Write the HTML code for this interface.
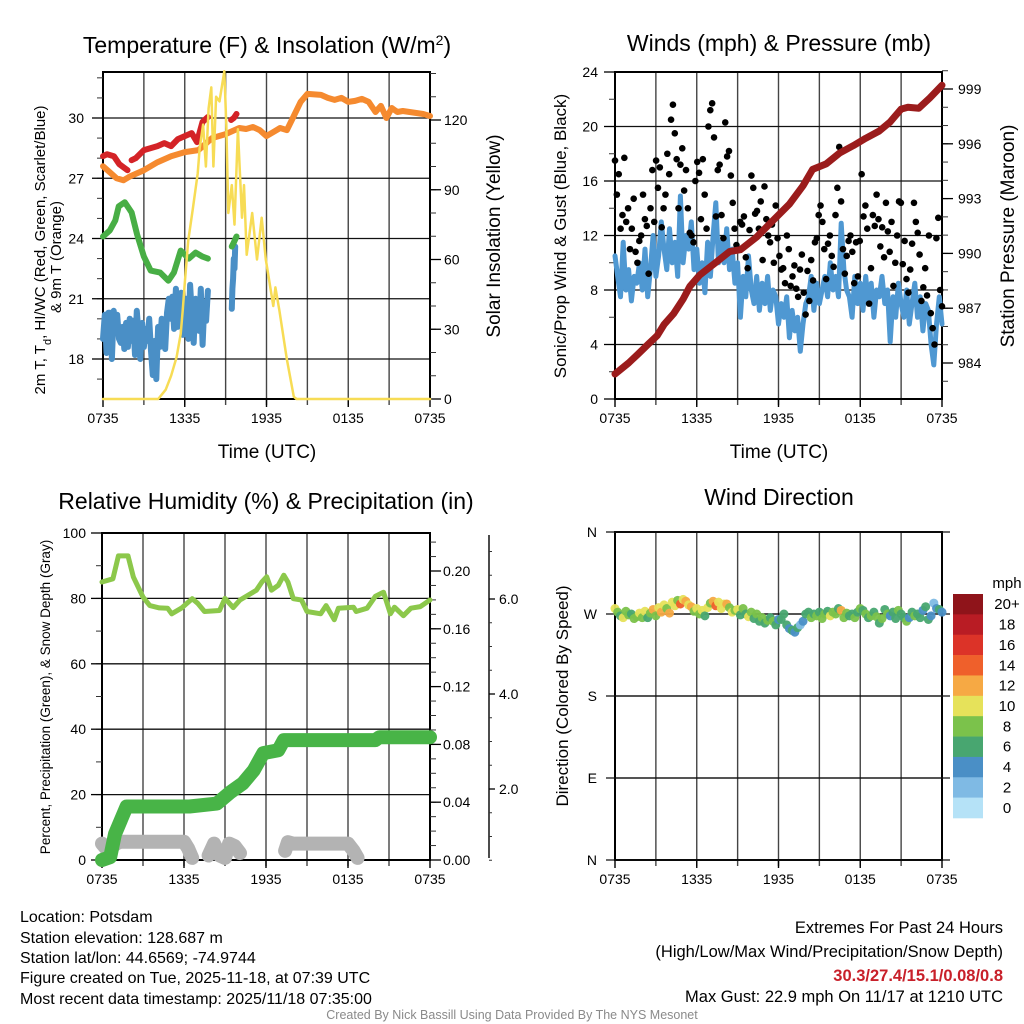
<!DOCTYPE html>
<html><head><meta charset="utf-8"><style>
html,body{margin:0;padding:0;background:#fff;}
svg{display:block;font-family:"Liberation Sans",Arial,sans-serif;}
</style></head><body>
<svg id="fig" width="1024" height="1024" viewBox="0 0 1024 1024" xmlns="http://www.w3.org/2000/svg">
<rect x="0" y="0" width="1024" height="1024" fill="#fff"/>
<g id="p1"></g>
<g id="p2"></g>
<g id="p3"></g>
<g id="p4"></g>
<text x="267" y="53" font-size="23" text-anchor="middle">Temperature (F) &amp; Insolation (W/m<tspan baseline-shift="super" font-size="14">2</tspan>)</text>
<text x="779" y="51" font-size="23" text-anchor="middle">Winds (mph) &amp; Pressure (mb)</text>
<text x="266" y="509" font-size="23" text-anchor="middle">Relative Humidity (%) &amp; Precipitation (in)</text>
<text x="779" y="505" font-size="23" text-anchor="middle">Wind Direction</text>
<text x="267" y="458" font-size="19" text-anchor="middle">Time (UTC)</text>
<text x="779" y="458" font-size="19" text-anchor="middle">Time (UTC)</text>
<text transform="translate(45,250) rotate(-90)" font-size="15" text-anchor="middle">2m T, T<tspan baseline-shift="sub" font-size="11">d</tspan>, HI/WC (Red, Green, Scarlet/Blue)</text>
<text transform="translate(61,257) rotate(-90)" font-size="15" text-anchor="middle">&amp; 9m T (Orange)</text>
<text transform="translate(500,236) rotate(-90)" font-size="19" text-anchor="middle">Solar Insolation (Yellow)</text>
<text transform="translate(566,236) rotate(-90)" font-size="17" text-anchor="middle">Sonic/Prop Wind &amp; Gust (Blue, Black)</text>
<text transform="translate(1014,236) rotate(-90)" font-size="19" text-anchor="middle">Station Pressure (Maroon)</text>
<text transform="translate(50,697) rotate(-90)" font-size="13.5" text-anchor="middle">Percent, Precipitation (Green), &amp; Snow Depth (Gray)</text>
<text transform="translate(568,696) rotate(-90)" font-size="17" text-anchor="middle">Direction (Colored By Speed)</text>
<g font-size="16">
<text x="20" y="922">Location: Potsdam</text>
<text x="20" y="943">Station elevation: 128.687 m</text>
<text x="20" y="963">Station lat/lon: 44.6569; -74.9744</text>
<text x="20" y="983">Figure created on Tue, 2025-11-18, at 07:39 UTC</text>
<text x="20" y="1004">Most recent data timestamp: 2025/11/18 07:35:00</text>
</g>
<g font-size="16.5" text-anchor="end">
<text x="1003" y="933">Extremes For Past 24 Hours</text>
<text x="1003" y="957">(High/Low/Max Wind/Precipitation/Snow Depth)</text>
<text x="1003" y="981" fill="#c8202a" font-weight="bold">30.3/27.4/15.1/0.08/0.8</text>
<text x="1003" y="1002">Max Gust: 22.9 mph On 11/17 at 1210 UTC</text>
</g>
<text x="512" y="1019" font-size="12.5" fill="#8a8a8a" text-anchor="middle">Created By Nick Bassill Using Data Provided By The NYS Mesonet</text>
</svg>
<script>
// ---------- data ----------
const timeLabels = ["0735","1335","1935","0135","0735"];
// 9 m temperature (orange)
const orangeT = [0,0.5,1,1.5,2,3,4,5,6,7,7.5,8,9,10,10.5,11,11.5,12,12.5,13,13.5,14,14.5,15,16,16.5,17,17.5,18,18.5,19,19.5,20,20.4,20.8,21.2,21.6,22,22.5,23,23.5,24];
const orangeV = [27.6,27.3,27.0,26.9,27.1,27.4,27.8,28.1,28.3,28.4,28.7,29.0,29.2,29.5,29.45,29.55,29.4,29.1,29.3,29.5,29.4,30.1,30.8,31.2,31.15,31.0,30.9,31.0,30.8,30.85,30.95,30.8,30.3,30.6,30.0,30.5,30.3,30.35,30.3,30.25,30.2,30.1];
// 2 m temperature (red)
const redT = [0,0.3,0.8,1.2,1.8,null,2.1,2.4,3.0,4.0,4.5,5.0,5.5,6.0,6.5,6.9,7.3,7.7,null,9.4,9.6,9.8];
const redV = [28.1,28.2,28.1,27.7,27.4,null,27.9,28.0,28.4,28.6,28.75,28.6,28.95,29.1,29.25,28.8,29.8,30.05,null,29.9,30.0,30.2];
// dewpoint (green)
const greenT = [0,0.5,0.9,1.15,1.6,2.1,2.5,3.0,3.5,4.2,4.8,5.2,5.7,6.3,6.8,7.3,7.7,null,9.45,9.6,9.8];
const greenV = [24.1,24.4,24.9,25.6,25.8,25.3,24.2,23.1,22.4,22.3,21.9,22.3,23.4,23.0,23.3,23.1,23.0,null,23.6,23.8,24.1];
// HI/WC (blue)
const blueV = [19.0,20.2,18.3,20.3,20.3,18.0,20.4,19.4,20.2,19.0,18.8,19.6,18.5,19.8,18.6,20.0,18.9,19.9,18.2,20.4,19.2,18.0,19.8,18.6,19.5,18.9,20.0,18.4,17.2,18.9,17.0,19.6,18.6,20.0,19.2,18.5,20.3,21.0,20.0,21.1,19.5,21.5,19.6,20.8,21.3,19.2,20.5,21.0,19.0,21.7,20.2,18.8,21.0,20.7,19.4,21.5,18.7,20.8,19.9,21.4];
const blue2T = [9.45,9.5,9.55,9.6,9.65,9.7];
const blue2V = [20.5,21.5,22.0,23.0,22.5,23.6];
// solar insolation (yellow)
const solarT = [0,4.05,4.6,5.0,5.4,5.7,5.85,6.0,6.25,6.6,6.95,7.1,7.35,7.55,7.75,7.95,8.1,8.3,8.55,8.9,9.05,9.2,9.45,9.65,9.9,10.2,10.35,10.55,10.95,11.3,11.65,11.95,12.2,12.5,12.65,12.95,13.5,14.0,14.2,24];
const solarV = [0,0,4,10,18,28,38,50,68,82,97,108,118,100,125,134,100,130,128,141,118,80,92,75,116,78,92,62,80,60,78,60,51,40,48,38,17,1,0,0];
// sustained wind (blue), every 0.2 h
const windV = [10.5,9,7.5,11.5,8,9.5,7.2,9,8.5,10,8,11,7.5,9.5,12,9,10.5,13,11,9.5,12.5,10,11.5,9,14.9,10,12,11,13,9.5,11,8.5,10,7.8,11.5,9,12,14.4,10,11.5,10,12.5,9.5,11,8.5,10,6,9,7.5,10.5,8,7,9,6.5,8.5,7,9,6.5,8,7.5,5.5,7,6,7.5,4.5,6.5,5,6,3.5,5.5,7,7.5,9,6.5,8.5,7,8,9,7.5,10,8,9,7.5,12.9,9.5,8,7.5,6,9,7,8.5,6.5,9,7,8.5,6,8,7.5,9,7,8,4.2,7.5,6,8.5,7,6,8,5.5,7,8.5,6,7.5,5,7,6.5,4,2.5,5.5,7.5,5.5];
// gusts (black), evenly spaced through the 24 h
const gustV = [17.5,15,16.5,12.5,13.5,17.7,13,14,11,12.5,14.7,10.8,10,11.6,12,15,13.2,12.7,9.2,14,16.8,13,17.5,15.5,17,12.6,14,15,18,16.5,20.5,21.6,19.5,17.6,14,17.2,18.4,15.3,16.8,14,12.2,12,11.5,16,17.4,16.6,13.2,17.6,15,12.5,20,21.2,21.7,19.2,13.4,16.8,17.2,13.5,11.8,20.3,17.8,18.2,16.4,14.4,12.5,11.3,11,13,12.8,13.4,10.4,9.6,12.4,16.4,15.5,13.6,13.8,12.5,14.5,10.2,15.6,13.2,12,11.5,12.8,10,14.2,11.8,10.5,9.5,9.6,8.5,12,11,8.3,9,9.8,8.1,7.5,9.5,10.6,7.8,6.2,9.4,7.2,10.2,8.7,11.5,11.8,13.5,14.2,13,11,8.8,11.4,12,10.5,9.7,13.5,15.5,18.5,14.5,11,9.2,10.5,11.6,12,10.8,8.5,11.5,9,11.6,16.5,13.4,14.2,12.5,7,9.6,13.5,12.7,15,13.2,11.2,12.6,10.4,14.4,12.3,10.8,13,8.3,10,12,14.5,14.4,9.9,11.6,8.8,7.8,9.5,11.4,14.4,13,12.2,10.6,7.2,8.2,9.6,7.6,12,6.3,5.2,4,11.8,13.3,8,6.8];
// pressure (maroon)
const presT = [0,0.5,1.0,1.7,2.4,3.1,3.6,4.3,5.0,5.5,6.2,7.4,8.4,9.2,10.4,11.6,12.8,13.8,14.5,15.5,16.5,17.5,18.4,19.4,20.2,21.0,21.5,22.3,23.1,24];
const presV = [983.4,983.7,984.0,984.5,985.0,985.5,986.1,986.7,987.5,988.2,988.8,989.5,990.1,990.2,990.9,991.8,992.7,993.7,994.6,994.9,995.5,995.9,996.3,996.7,997.2,997.9,998.0,997.95,998.5,999.2];
// relative humidity (light green)
const rhT = [0,0.8,1.2,1.9,2.3,3.0,3.5,4.2,4.8,5.1,5.8,6.6,7.0,7.5,8.6,9.0,9.6,10.1,10.7,11.3,11.7,12.05,12.4,12.9,13.3,13.6,14.0,14.6,15.0,16.0,16.4,17.0,17.3,18.4,18.6,19.4,20.0,20.6,21.1,21.4,22.05,22.6,23.3,24];
const rhV = [85,86,93,93,86.5,80.4,77.8,77.1,77,75.3,77,79.9,78.5,76,76.3,80,77.2,79.5,81,82.5,85,86.6,82.5,84,87.1,85,79.9,79.5,76,75.3,77.8,73.5,77,77.3,76,77,80.6,81.9,75.3,77.3,74.7,77,77.5,79.5];
// precipitation (green, inches)
const prT = [0,0.6,0.95,1.8,6.4,8.4,9.4,10.3,11.1,11.8,12.9,13.3,13.8,20.0,20.3,24];
const prV = [0,0.002,0.018,0.037,0.037,0.039,0.047,0.053,0.062,0.074,0.076,0.083,0.083,0.083,0.085,0.085];
// snow depth (gray, inches)
const snT = [0,0.3,0.8,1.2,1.5,6.0,6.3,6.6,null,7.8,8.2,8.6,9.0,9.3,9.7,10.1,null,13.4,13.6,14.0,18.0,18.4,18.7];
const snV = [0.85,0.75,0.8,0.88,0.89,0.89,0.75,0.55,null,0.6,0.85,0.6,0.55,0.85,0.8,0.65,null,0.7,0.88,0.85,0.85,0.7,0.55];
// wind direction (deg), every 0.2 h, colored by windV
const dirV = [276,272,268,266,273,269,270,265,267,271,266,273,266,271,275,268,277,272,280,276,271,283,279,285,281,286,284,280,278,273,276,270,274,268,277,282,284,279,283,276,281,281,277,272,274,275,269,276,270,267,272,265,270,262,266,260,263,266,262,258,264,264,270,258,254,252,250,255,258,262,270,272,266,270,268,272,265,270,273,268,272,270,276,274,266,271,268,270,266,272,276,274,270,266,268,272,267,260,265,275,270,268,272,265,274,270,266,262,266,272,268,270,266,274,278,264,268,282,276,275,272];
const cbLabels = ["20+","18","16","14","12","10","8","6","4","2","0"];
const cbColors = ["#8f141a","#b91c24","#dc3328","#ef602b","#f6a944","#e6e25a","#7bc24b","#48a670","#4a8fc6","#7fbae4","#b5e2f7"];

// ---------- helpers ----------
const NS="http://www.w3.org/2000/svg";
function mk(parent,tag,attrs){const e=document.createElementNS(NS,tag);for(const k in attrs)e.setAttribute(k,attrs[k]);parent.appendChild(e);return e;}
function lin(d0,d1,r0,r1){return v=>r0+(v-d0)*(r1-r0)/(d1-d0);}
function pathD(ts,vs,fx,fy){let d="",pen=false;for(let i=0;i<ts.length;i++){if(ts[i]===null){pen=false;continue;}d+=(pen?"L":"M")+fx(ts[i]).toFixed(1)+" "+fy(vs[i]).toFixed(1);pen=true;}return d;}
function frame(g,L,R,T,B,hLines,fx,fy){
  for(let h=3;h<24;h+=3){const x=fx(h);const ln=mk(g,"line",{x1:x,y1:T,x2:x,y2:B+6,stroke:"#444","stroke-width":1.4});
    
    }
  hLines.forEach(v=>{const y=fy(v);const ln=mk(g,"line",{x1:L,y1:y,x2:R,y2:y,stroke:"#111","stroke-width":1.3});
    
    });
  const r=mk(g,"rect",{x:L,y:T,width:R-L,height:B-T,fill:"none",stroke:"#000","stroke-width":2});
  
  
  timeLabels.forEach((s,i)=>{const x=fx(i*6);mk(g,"line",{x1:x,y1:B,x2:x,y2:B+8,stroke:"#000","stroke-width":1.4});
    const t=mk(g,"text",{x:x,y:B+24,"font-size":14,"text-anchor":"middle"});t.textContent=s;
    
    });
}
function yAxis(g,x,fy,vals,fmt,side,minorStep,lo,hi,lx,majLen,minLen){
  majLen=majLen||11;minLen=minLen||6;
  for(let v=lo;v<=hi+1e-9;v+=minorStep){const y=fy(v);mk(g,"line",{x1:x,y1:y,x2:x+(side<0?-minLen:minLen),y2:y,stroke:"#333","stroke-width":1});}
  vals.forEach(v=>{const y=fy(v);mk(g,"line",{x1:x,y1:y,x2:x+(side<0?-majLen:majLen),y2:y,stroke:"#000","stroke-width":1.3});
    const t=mk(g,"text",{x:lx,y:y+5,"font-size":14,"text-anchor":side<0?"end":"start"});t.textContent=fmt(v);
    
    });
}
function line(g,d,color,w,name){const p=mk(g,"path",{d:d,fill:"none",stroke:color,"stroke-width":w,"stroke-linejoin":"round","stroke-linecap":"round"});
  
  return p;}

// ---------- panel 1 ----------
(function(){
const g=document.getElementById("p1");
const L=103,R=430,T=72,B=399;
const fx=lin(0,24,L,R), fy=lin(30,18,118,359), fs=lin(0,120,399,120);
frame(g,L,R,T,B,[30,27,24,21,18],fx,fy);
yAxis(g,L,fy,[30,27,24,21,18],v=>String(v),-1,1,17,32,84);
yAxis(g,R,fs,[0,30,60,90,120],v=>String(v),1,10,0,140,444);
const bT=blueV.map((v,i)=>i*7.7/(blueV.length-1));
line(g,pathD(bT,blueV,fx,fy),"#4a8fc6",6,"hiwc-line");
line(g,pathD(blue2T,blue2V,fx,fy),"#4a8fc6",6,"hiwc-line-2");
line(g,pathD(greenT,greenV,fx,fy),"#48ae45",6,"dewpoint-line");
line(g,pathD(orangeT,orangeV,fx,fy),"#f58a2f",6,"temp-9m-line");
line(g,pathD(redT,redV,fx,fy),"#d42327",6,"temp-2m-line");
line(g,pathD(solarT,solarV,fx,fs),"#f7dc55",2.5,"solar-line");
})();

// ---------- panel 2 ----------
(function(){
const g=document.getElementById("p2");
const L=615,R=942,T=72,B=399;
const fx=lin(0,24,L,R), fy=lin(0,24,399,72), fp=lin(999,984,89,363);
frame(g,L,R,T,B,[4,8,12,16,20],fx,fy);
yAxis(g,L,fy,[0,4,8,12,16,20,24],v=>String(v),-1,2,0,24,598);
yAxis(g,R,fp,[999,996,993,990,987,984],v=>String(v),1,1,983,1000,958);
const wT=windV.map((v,i)=>i*0.2);
line(g,pathD(wT,windV,fx,fy),"#4f98d2",5,"wind-line");
gustV.forEach((v,i)=>{const t=i*24/(gustV.length-1);
  const c=mk(g,"circle",{cx:fx(t),cy:fy(v),r:3.3,fill:"#000"});
  
  });
line(g,pathD(presT,presV,fx,fp),"#9b1c1c",7,"pressure-line");
})();

// ---------- panel 3 ----------
(function(){
const g=document.getElementById("p3");
const L=102,R=430,T=533,B=860;
const fx=lin(0,24,L,R), fy=lin(0,100,860,533), fpr=lin(0,0.2,860,571), fsn=lin(2,6,789,599);
frame(g,L,R,T,B,[80,60,40,20],fx,fy);
yAxis(g,L,fy,[0,20,40,60,80,100],v=>String(v),-1,10,0,100,86);
yAxis(g,R,fpr,[0,0.04,0.08,0.12,0.16,0.2],v=>v.toFixed(2),1,0.01,0,0.22,443);
mk(g,"line",{x1:489,y1:535,x2:489,y2:858,stroke:"#000","stroke-width":1.4});
yAxis(g,489,fsn,[2,4,6],v=>v.toFixed(1),1,0.5,0.5,7.2,499,6,3);
line(g,pathD(snT,snV,fx,fsn),"#b3b3b3",14,"snow-depth-line");
line(g,pathD(prT,prV,fx,fpr),"#48b447",14,"precip-line");
line(g,pathD(rhT,rhV,fx,fy),"#8cc84b",5,"rh-line");
})();

// ---------- panel 4 ----------
(function(){
const g=document.getElementById("p4");
const L=615,R=942,T=532,B=860;
const fx=lin(0,24,L,R), fy=lin(360,0,532,860);
frame(g,L,R,T,B,[270,180,90],fx,fy);
[360,270,180,90,0].forEach((v,i)=>{const y=fy(v);mk(g,"line",{x1:606,y1:y,x2:950,y2:y,stroke:"#111","stroke-width":1.3});
  const t=mk(g,"text",{x:597,y:y+5,"font-size":14,"text-anchor":"end"});t.textContent=["N","W","S","E","N"][i];
  
  });
dirV.forEach((v,i)=>{const s=windV[i];let k=Math.min(10,Math.floor(s/2));
  const c=mk(g,"circle",{cx:fx(i*0.2),cy:fy(v),r:4.5,fill:cbColors[10-k],"fill-opacity":0.95});
  
  });
const cb=mk(g,"g",{});


const h=(818-594)/cbColors.length;
cbColors.forEach((c,i)=>{mk(cb,"rect",{x:953,y:594+i*h,width:30,height:h+0.3,fill:c});
  const t=mk(cb,"text",{x:1007,y:594+i*h+h/2+5,"font-size":15,"text-anchor":"middle"});t.textContent=cbLabels[i];});
const m=mk(cb,"text",{x:1007,y:588,"font-size":15,"text-anchor":"middle"});m.textContent="mph";
})();
</script>
</body></html>
